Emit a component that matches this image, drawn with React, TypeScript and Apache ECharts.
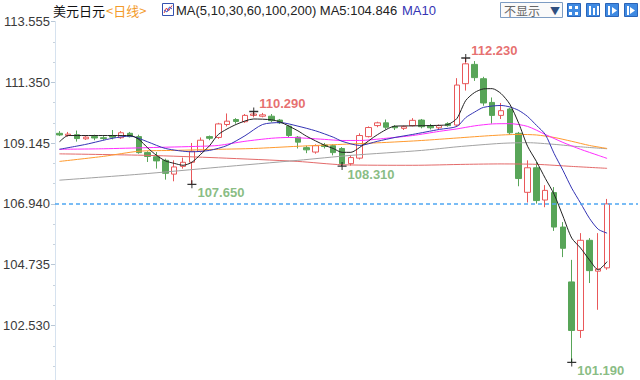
import React, { useEffect, useRef } from "react";
import * as echarts from "echarts";

// ---- data ----
const categories: string[] = Array.from({ length: 66 }, (_, i) => "D" + (i + 1));

// [open, close, low, high]
const candles: number[][] = [
  [109.50, 109.44, 109.40, 109.58],
  [109.42, 109.47, 109.38, 109.55],
  [109.45, 109.31, 109.20, 109.60],
  [109.30, 109.36, 109.26, 109.40],
  [109.38, 109.33, 109.25, 109.45],
  [109.34, 109.31, 109.26, 109.40],
  [109.42, 109.36, 109.28, 109.62],
  [109.34, 109.52, 109.30, 109.58],
  [109.50, 109.38, 109.35, 109.55],
  [109.38, 108.80, 108.76, 109.45],
  [108.80, 108.66, 108.46, 108.85],
  [108.65, 108.50, 108.22, 108.82],
  [108.52, 108.05, 107.82, 108.58],
  [108.02, 108.28, 107.76, 108.52],
  [108.30, 108.45, 108.22, 108.62],
  [108.45, 108.85, 107.65, 109.15],
  [108.85, 109.25, 108.80, 109.35],
  [109.38, 109.32, 109.25, 109.42],
  [109.35, 109.84, 109.30, 109.88],
  [109.82, 109.94, 109.75, 110.22],
  [110.00, 109.93, 109.85, 110.05],
  [109.92, 110.15, 109.88, 110.20],
  [110.15, 110.20, 110.08, 110.29],
  [110.12, 110.17, 110.08, 110.24],
  [110.12, 109.96, 109.90, 110.20],
  [109.98, 109.88, 109.84, 110.02],
  [109.76, 109.42, 109.36, 109.80],
  [109.36, 109.18, 108.95, 109.40],
  [108.98, 108.90, 108.78, 109.05],
  [108.82, 109.05, 108.76, 109.10],
  [109.08, 109.02, 108.95, 109.15],
  [109.05, 108.80, 108.70, 109.10],
  [108.95, 108.40, 108.31, 109.00],
  [108.40, 108.62, 108.33, 108.70],
  [108.60, 109.42, 108.55, 109.50],
  [109.38, 109.71, 109.35, 109.75],
  [109.78, 109.88, 109.72, 109.92],
  [109.88, 109.72, 109.65, 110.00],
  [109.75, 109.70, 109.62, 109.80],
  [109.68, 109.74, 109.62, 109.78],
  [109.78, 109.97, 109.75, 110.05],
  [109.98, 109.74, 109.68, 110.02],
  [109.78, 109.70, 109.64, 109.84],
  [109.70, 109.78, 109.65, 109.82],
  [109.85, 109.78, 109.74, 109.90],
  [109.80, 111.25, 109.75, 111.50],
  [111.30, 112.02, 111.05, 112.23],
  [112.00, 111.52, 111.40, 112.12],
  [111.48, 110.60, 110.50, 111.55],
  [110.62, 110.15, 109.85, 110.80],
  [110.15, 110.32, 110.02, 110.60],
  [110.38, 109.52, 109.45, 110.42],
  [109.50, 107.86, 107.58, 109.55],
  [107.36, 108.25, 106.99, 108.52],
  [108.25, 107.06, 106.95, 108.46],
  [107.08, 107.43, 106.82, 107.62],
  [107.35, 106.10, 105.96, 107.55],
  [106.10, 105.33, 105.01, 106.28],
  [104.11, 102.35, 101.19, 104.91],
  [102.35, 105.62, 102.08, 105.88],
  [105.62, 104.52, 104.07, 105.70],
  [104.50, 104.58, 103.10, 105.88],
  [104.62, 106.94, 104.55, 107.12],
];

// moving averages: [candle index, value]
const ma5: number[][] = [
  [0, 109.19], [1, 109.42], [4, 109.42], [8, 109.42], [9, 109.28], [10, 108.97], [11, 108.70],
  [12, 108.50], [13, 108.41], [14, 108.34], [15, 108.45], [16, 108.74], [17, 109.05], [18, 109.46],
  [20, 109.82], [22, 110.02], [24, 109.99], [25, 109.91], [27, 109.59], [28, 109.39], [30, 109.07],
  [31, 108.95], [32, 108.81], [33, 108.81], [34, 108.99], [36, 109.45], [38, 109.76], [40, 109.77],
  [43, 109.79], [44, 109.82], [45, 110.04], [46, 110.69], [47, 110.98], [48, 111.11], [49, 111.12],
  [50, 110.94], [51, 110.55], [52, 109.86], [53, 109.03], [54, 108.48], [55, 107.87], [56, 107.29],
  [57, 106.50], [58, 105.70], [59, 105.34], [60, 104.91], [61, 104.55], [62, 104.846],
];
const ma10: number[][] = [
  [0, 108.92], [3, 109.10], [6, 109.32], [8, 109.40], [10, 109.19], [12, 108.95], [15, 108.83],
  [17, 108.88], [19, 109.06], [21, 109.41], [23, 109.82], [25, 109.89], [27, 109.76], [29, 109.59],
  [31, 109.36], [32, 109.21], [34, 109.06], [36, 109.21], [38, 109.35], [40, 109.46], [43, 109.64],
  [45, 109.75], [46, 110.07], [47, 110.27], [48, 110.44], [50, 110.51], [51, 110.455], [52, 110.33],
  [53, 110.11], [54, 109.79], [55, 109.46], [56, 108.77], [57, 108.16], [58, 107.51], [59, 106.97],
  [60, 106.42], [61, 106.02], [62, 105.88],
];
const ma30: number[][] = [
  [0, 108.92], [5, 108.94], [10, 108.98], [16, 109.03], [18, 109.06], [21, 109.21], [24, 109.32],
  [26, 109.35], [28, 109.32], [30, 109.28], [32, 109.24], [34, 109.24], [37, 109.32], [40, 109.42],
  [43, 109.57], [45, 109.66], [47, 109.77], [49, 109.84], [51, 109.85], [53, 109.75], [55, 109.46],
  [57, 109.17], [59, 108.92], [61, 108.70], [62, 108.59],
];
const ma60: number[][] = [
  [0, 108.48], [5, 108.665], [9, 108.85], [13, 108.88], [18, 108.92], [22, 108.95], [27, 109.03],
  [32, 109.10], [37, 109.17], [41, 109.24], [45, 109.33], [49, 109.42], [52, 109.46], [54, 109.44],
  [56, 109.35], [58, 109.21], [60, 109.06], [62, 108.95],
];
const ma100: number[][] = [
  [0, 107.80], [9, 108.015], [18, 108.27], [27, 108.52], [33, 108.70], [41, 108.88], [45, 109.01],
  [50, 109.135], [53, 109.16], [56, 109.10], [59, 109.01], [62, 108.94],
];
const ma200: number[][] = [
  [0, 108.755], [10, 108.70], [18, 108.61], [27, 108.48], [32, 108.36], [40, 108.34], [46, 108.375],
  [50, 108.39], [54, 108.375], [58, 108.30], [62, 108.23],
];

const highMarks: number[][] = [[22, 110.29], [46, 112.23]];
const lowMarks: number[][] = [[15, 107.65], [32, 108.31], [58, 101.19]];

const lastPrice = 106.94;
const yMin = 100.325;
const yMax = 113.555;
const yInterval = 2.205;

const headerMA = "MA(5,10,30,60,100,200) MA5:104.846";

const UP = "#e9585a";
const DOWN = "#58a558";
const NUM_FONT = '"Liberation Sans", Arial, sans-serif';
const CJK_FONT = '"Noto Sans CJK SC", sans-serif';
const CROSS = "path://M0,3.5H9V4.5H0Z M4,1H5V7H4Z";

function maSeries(name: string, data: number[][], color: string) {
  return {
    name,
    type: "line",
    data,
    smooth: 0.25,
    symbol: "none",
    z: 3,
    lineStyle: { color, width: 1 },
    silent: true,
  };
}

export default function App() {
  const ref = useRef<HTMLDivElement>(null);
  useEffect(() => {
    if (!ref.current) return;
    const chart = echarts.init(ref.current, undefined, { renderer: "svg" });
    const iconXs = [567, 586, 605, 624];
    const option: any = {
      animation: false,
      backgroundColor: "#ffffff",
      grid: { left: 53.5, right: 2, top: 21.5, bottom: 3.7 },
      xAxis: { type: "category", data: categories, boundaryGap: true, show: false },
      yAxis: {
        type: "value",
        min: yMin,
        max: yMax,
        interval: yInterval,
        position: "left",
        axisLine: { show: true, lineStyle: { color: "#d6e2ef", width: 1 } },
        axisTick: { show: true, length: 4, lineStyle: { color: "#b9c7d6" } },
        minorTick: { show: true, splitNumber: 3, length: 2, lineStyle: { color: "#c9d3dd" } },
        splitLine: { show: false },
        axisLabel: {
          color: "#3a3a3a",
          fontSize: 13,
          fontFamily: NUM_FONT,
          margin: 5,
          showMinLabel: false,
          formatter: (v: number) => v.toFixed(3),
        },
      },
      series: [
        {
          type: "candlestick",
          data: candles,
          barWidth: 6,
          z: 2,
          itemStyle: {
            color: "#ffffff",
            color0: DOWN,
            borderColor: UP,
            borderColor0: DOWN,
            borderWidth: 1,
          },
          markLine: {
            silent: true,
            symbol: ["none", "none"],
            label: { show: false },
            data: [
              { yAxis: lastPrice, lineStyle: { color: "#4ea6f2", type: [4, 3], width: 1.5 } },
              { yAxis: yMax, lineStyle: { color: "#e3e3e3", type: [4, 3], width: 1 } },
            ],
          },
        },
        maSeries("MA200", ma200, "#e36a6a"),
        maSeries("MA100", ma100, "#a2a2a2"),
        maSeries("MA60", ma60, "#ff9a2e"),
        maSeries("MA30", ma30, "#ff2cff"),
        maSeries("MA10", ma10, "#3434b4"),
        maSeries("MA5", ma5, "#222222"),
        {
          type: "scatter",
          data: highMarks,
          symbol: CROSS,
          symbolSize: [9, 8],
          z: 5,
          itemStyle: { color: "#000" },
          label: {
            show: true,
            position: "right",
            distance: 1,
            offset: [0, -8],
            color: "#e04a4a",
            fontSize: 13,
            fontWeight: "bold",
            fontFamily: NUM_FONT,
            formatter: (p: any) => p.value[1].toFixed(3),
          },
          silent: true,
        },
        {
          type: "scatter",
          data: lowMarks,
          symbol: CROSS,
          symbolSize: [9, 8],
          z: 5,
          itemStyle: { color: "#000" },
          label: {
            show: true,
            position: "right",
            distance: 1,
            offset: [0, 8],
            color: "#6aab63",
            fontSize: 13,
            fontWeight: "bold",
            fontFamily: NUM_FONT,
            formatter: (p: any) => p.value[1].toFixed(3),
          },
          silent: true,
        },
      ],
      graphic: [
        { type: "text", x: 53, y: 10, style: { text: "美元日元", fill: "#111", font: `13px ${CJK_FONT}`, verticalAlign: "middle" } },
        { type: "text", x: 106, y: 10, style: { text: "<日线>", fill: "#f39a2a", font: `13px ${CJK_FONT}`, verticalAlign: "middle" } },
        { type: "rect", shape: { x: 162.5, y: 3.5, width: 11, height: 12 }, style: { fill: "#ffffff", stroke: "#3552b0", lineWidth: 1 } },
        { type: "polyline", shape: { points: [[164, 13], [166.5, 8], [168.5, 11], [172, 5.5]] }, style: { stroke: "#e03c3c", lineWidth: 1, fill: "none" } },
        { type: "polyline", shape: { points: [[164, 10], [167, 12], [169.5, 7], [172, 9]] }, style: { stroke: "#3a5ad0", lineWidth: 1, fill: "none" } },
        { type: "text", x: 176, y: 10, style: { text: headerMA, fill: "#222", font: `13px ${NUM_FONT}`, verticalAlign: "middle" } },
        { type: "text", x: 402, y: 10, style: { text: "MA10", fill: "#3434b4", font: `13px ${NUM_FONT}`, verticalAlign: "middle" } },
        { type: "rect", shape: { x: 500.5, y: 2.5, width: 62, height: 15 }, style: { fill: "#fafafa", stroke: "#7d9cc2", lineWidth: 1 } },
        { type: "text", x: 504, y: 10, style: { text: "不显示", fill: "#666", font: `12px ${CJK_FONT}`, verticalAlign: "middle" } },
        { type: "text", x: 550, y: 10, style: { text: "▼", fill: "#2f4f7f", font: `10px ${CJK_FONT}`, verticalAlign: "middle" } },
        ...iconXs.map((x) => ({
          type: "rect",
          shape: { x: x + 0.5, y: 3.5, width: 13, height: 13 },
          style: { fill: "#3f8ae2", stroke: "#2a64b8", lineWidth: 1 },
        })),
        // glyphs inside icons
        { type: "rect", shape: { x: 569, y: 6, width: 3, height: 3 }, style: { fill: "#fff" } },
        { type: "rect", shape: { x: 575, y: 6, width: 3, height: 3 }, style: { fill: "#fff" } },
        { type: "rect", shape: { x: 569, y: 12, width: 3, height: 3 }, style: { fill: "#fff" } },
        { type: "rect", shape: { x: 575, y: 12, width: 3, height: 3 }, style: { fill: "#fff" } },
        { type: "rect", shape: { x: 589, y: 6, width: 2, height: 9 }, style: { fill: "#fff" } },
        { type: "rect", shape: { x: 593, y: 8, width: 2, height: 7 }, style: { fill: "#fff" } },
        { type: "rect", shape: { x: 597, y: 6, width: 2, height: 9 }, style: { fill: "#fff" } },
        { type: "rect", shape: { x: 608, y: 6, width: 2, height: 9 }, style: { fill: "#fff" } },
        { type: "polygon", shape: { points: [[612, 7], [617, 10.5], [612, 14]] }, style: { fill: "#fff" } },
        { type: "rect", shape: { x: 627, y: 6, width: 2, height: 9 }, style: { fill: "#fff" } },
        { type: "polygon", shape: { points: [[630, 7], [635, 10.5], [630, 14]] }, style: { fill: "#fff" } },
      ],
    };
    chart.setOption(option);
    return () => chart.dispose();
  }, []);
  return (
    <div style={{ position: "fixed", left: 0, top: 0, width: 640, height: 380, overflow: "hidden", background: "#fff" }}>
      <div ref={ref} style={{ width: 640, height: 390 }} />
    </div>
  );
}
